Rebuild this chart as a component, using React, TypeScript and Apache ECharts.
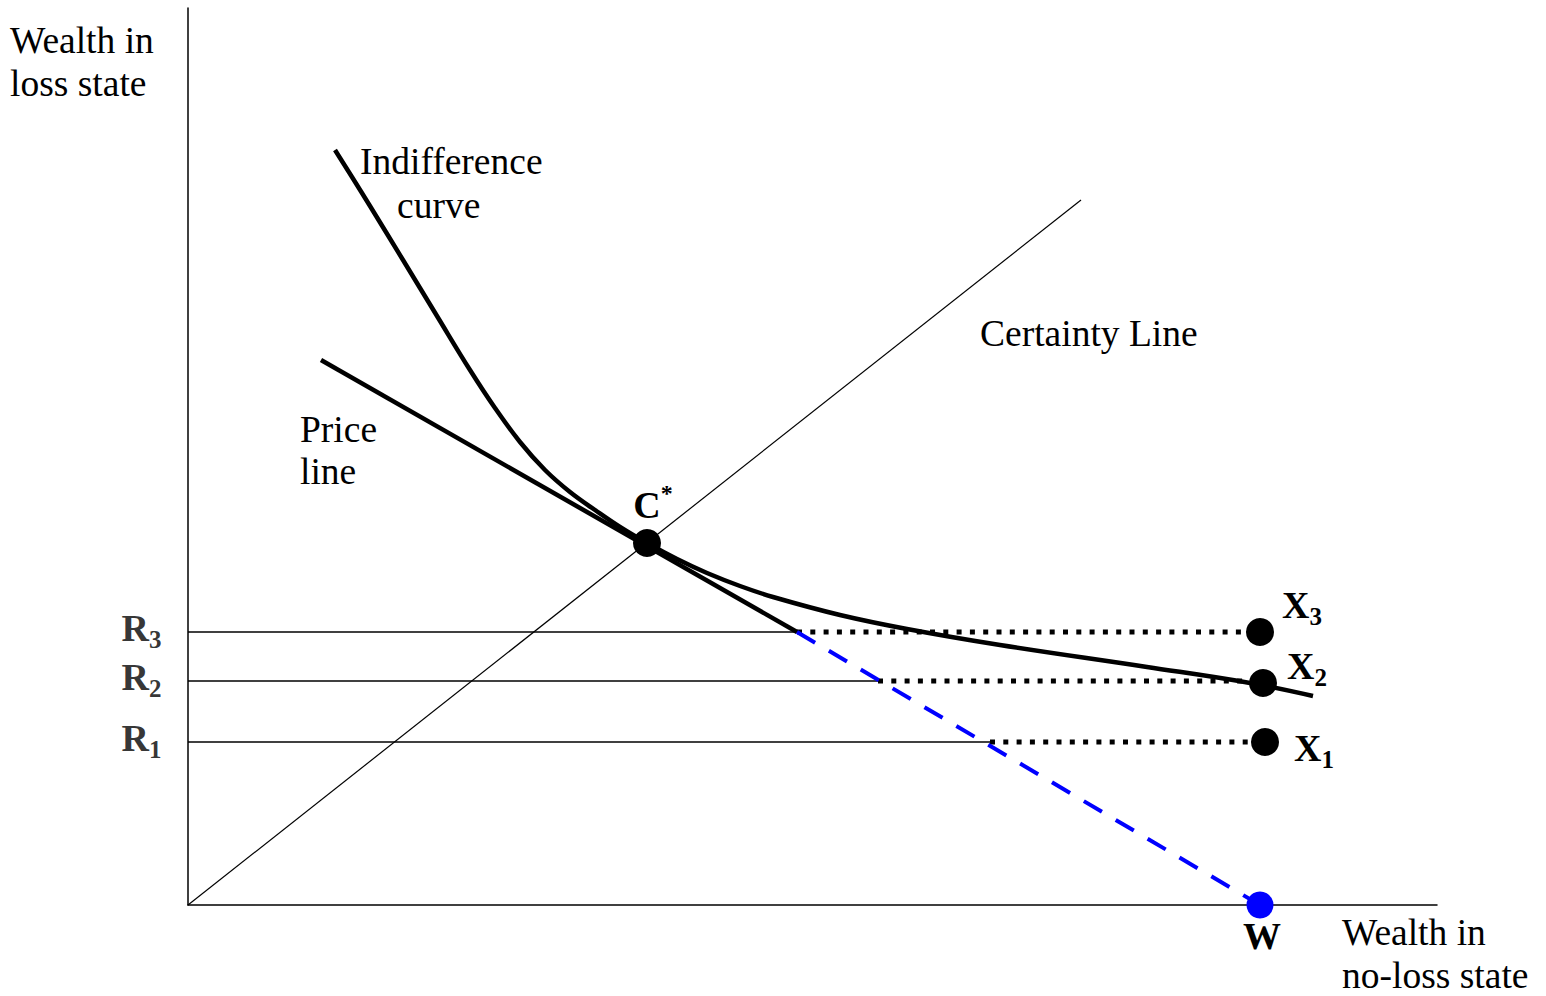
import React, { useEffect, useRef } from "react";
import * as echarts from "echarts";

// ---- data (abstract units: origin at the axes' corner) ----
const certaintyLine: number[][] = [[0, 0], [893, 705]];
const indifferenceCurve: number[][] = [
  [147, 755], [164, 728], [182, 699], [215, 645], [249, 589], [282, 535],
  [307, 497], [332, 463], [357, 435], [382, 413], [407, 395], [432, 378],
  [459, 362], [489, 346], [519, 332], [552, 319], [585, 308], [652, 290],
  [719, 276], [812, 260], [959, 238], [1062, 222], [1125, 209],
];
const priceLineSolid: number[][] = [[133, 545], [609, 273]];
const priceLineDashed: number[][] = [[609, 273], [1072, 0]];
const rLevels = [163, 224, 273];
const rNames = ["1", "2", "3"];
const rMeetX = [802, 690, 609];
const xPointX = [1077, 1075, 1072];
const xPointY = [163, 222, 273];
const wPoint = [1072, 0];
const cStar = [459, 362];

const axisXMax = 1249;
const axisYMax = 897;

const SERIF = "'Liberation Serif', 'Times New Roman', serif";

const plainTexts = [
  { text: "Wealth in", x: 10, y: 40 },
  { text: "loss state", x: 10, y: 83 },
  { text: "Indifference", x: 360, y: 161 },
  { text: "curve", x: 397, y: 205 },
  { text: "Certainty Line", x: 980, y: 333 },
  { text: "Price", x: 300, y: 429 },
  { text: "line", x: 300, y: 471 },
  { text: "Wealth in", x: 1342, y: 932 },
  { text: "no-loss state", x: 1342, y: 975 },
];

const xLabelOffsets = [
  { distance: 15, offset: [0, 6] },
  { distance: 10, offset: [0, -17] },
  { distance: 8, offset: [0, -27] },
];

const rich = {
  b: { fontFamily: SERIF, fontWeight: "bold", fontSize: 38, color: "#000", lineHeight: 48 },
  sub: { fontFamily: SERIF, fontWeight: "bold", fontSize: 25, color: "#000", lineHeight: 27, verticalAlign: "bottom" },
  sup: { fontFamily: SERIF, fontWeight: "bold", fontSize: 24, color: "#000", lineHeight: 20, verticalAlign: "top" },
};

export default function App() {
  const ref = useRef<HTMLDivElement>(null);

  useEffect(() => {
    if (!ref.current) return;
    const chart = echarts.init(ref.current, null, { renderer: "svg" });

    const thinLines = rLevels.map((r, i) => ({
      type: "line",
      data: [[0, r], [rMeetX[i], r]],
      symbol: "none",
      lineStyle: { color: "#000", width: 1.4 },
      z: 2,
      silent: true,
    }));
    const dottedLines = rLevels.map((r, i) => ({
      type: "line",
      data: [[rMeetX[i], r], [xPointX[i], r]],
      symbol: "none",
      lineStyle: { color: "#000", width: 5, type: [5, 8.3], cap: "butt" },
      z: 3,
      silent: true,
    }));

    chart.setOption({
      animation: false,
      grid: { left: 188, top: 8, right: 1546 - 188 - axisXMax, bottom: 996 - 8 - axisYMax },
      xAxis: {
        type: "value", min: 0, max: axisXMax,
        axisLine: { show: true, onZero: false, lineStyle: { color: "#000", width: 1.5 } },
        axisTick: { show: false }, axisLabel: { show: false }, splitLine: { show: false },
      },
      yAxis: {
        type: "value", min: 0, max: axisYMax,
        axisLine: { show: true, onZero: false, lineStyle: { color: "#000", width: 1.5 } },
        axisTick: { show: false }, axisLabel: { show: false }, splitLine: { show: false },
      },
      series: [
        {
          type: "line", data: certaintyLine, symbol: "none",
          lineStyle: { color: "#000", width: 1.2 }, z: 2, silent: true,
        },
        ...thinLines,
        ...dottedLines,
        {
          type: "line", data: indifferenceCurve, symbol: "none", smooth: 0.4,
          lineStyle: { color: "#000", width: 4.5, join: "round" }, z: 4, silent: true,
        },
        {
          type: "line", data: priceLineSolid, symbol: "none",
          lineStyle: { color: "#000", width: 4.5, cap: "butt" }, z: 4, silent: true,
        },
        {
          type: "line", data: priceLineDashed, symbol: "none",
          lineStyle: { color: "#0000ff", width: 4, type: [21, 16], cap: "butt" }, z: 4, silent: true,
        },
        {
          type: "scatter", symbolSize: 28, itemStyle: { color: "#000", opacity: 1 }, z: 6,
          data: xPointX.map((x, i) => ({
            value: [x, xPointY[i]],
            label: {
              show: true, position: "right",
              distance: xLabelOffsets[i].distance, offset: xLabelOffsets[i].offset,
              formatter: `{b|X}{sub|${rNames[i]}}`, rich,
            },
          })),
        },
        {
          type: "scatter", symbolSize: 28, itemStyle: { color: "#000", opacity: 1 }, z: 6,
          data: [{
            value: cStar,
            label: {
              show: true, position: "top", distance: 0, offset: [6, 0],
              formatter: "{b|C}{sup|*}", rich,
            },
          }],
        },
        {
          type: "scatter", symbolSize: 27, itemStyle: { color: "#0000ff", opacity: 1 }, z: 6,
          data: [{
            value: wPoint,
            label: {
              show: true, position: "bottom", distance: 0, offset: [2, -7],
              formatter: "{b|W}", rich,
            },
          }],
        },
        {
          type: "scatter", symbol: "circle", symbolSize: 1,
          itemStyle: { color: "rgba(0,0,0,0)" }, z: 6,
          data: rLevels.map((r, i) => ({
            value: [0, r],
            label: {
              show: true, position: "left", distance: 26, offset: [0, -4],
              formatter: `{b|R}{sub|${rNames[i]}}`, rich,
            },
          })),
        },
      ],
      graphic: plainTexts.map((t) => ({
        type: "text",
        x: t.x, y: t.y,
        silent: true,
        style: {
          text: t.text, fill: "#000",
          font: `37.5px ${SERIF}`,
          textAlign: "left", textVerticalAlign: "middle",
        },
      })),
    });

    return () => chart.dispose();
  }, []);

  return (
    <div
      ref={ref}
      style={{ position: "fixed", left: 0, top: 0, width: 1546, height: 996, background: "#fff" }}
    />
  );
}
